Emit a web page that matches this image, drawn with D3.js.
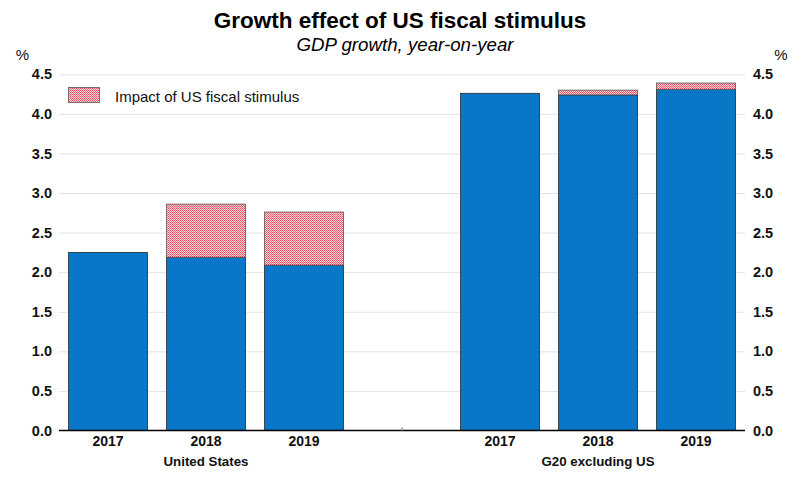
<!DOCTYPE html>
<html>
<head>
<meta charset="utf-8">
<script src="https://cdn.jsdelivr.net/npm/d3@7"></script>
<style>
  body { margin: 0; background: #fff; }
  svg { display: block; font-family: "Liberation Sans", Arial, sans-serif; }
</style>
</head>
<body>
<svg id="chart" width="795" height="481"></svg>
<script>
(function(){

  // data
  var groups = ["United States", "G20 excluding US"];
  var years = ["2017", "2018", "2019"];
  var baseUS = [2.25, 2.19, 2.09];
  var impactUS = [0, 0.67, 0.67];
  var baseG20 = [4.26, 4.24, 4.31];
  var impactG20 = [0, 0.06, 0.08];
  var yTicks = [0, 0.5, 1, 1.5, 2, 2.5, 3, 3.5, 4, 4.5];

  var left = 59, right = 745, top = 74.3, bottom = 430.5;
  var blue = "#0877c7";

  var rows = [];
  years.forEach(function(yr, i){
    rows.push({key: "US-" + yr, year: yr, group: groups[0], base: baseUS[i], impact: impactUS[i]});
  });
  rows.push({key: "gap", year: "", group: null});
  years.forEach(function(yr, i){
    rows.push({key: "G20-" + yr, year: yr, group: groups[1], base: baseG20[i], impact: impactG20[i]});
  });

  var svg = d3.select("#chart");

  // hatch pattern for the stimulus part
  var pat = svg.append("defs").append("pattern")
    .attr("id", "hatch")
    .attr("patternUnits", "userSpaceOnUse")
    .attr("width", 2).attr("height", 2);
  pat.append("rect").attr("width", 2).attr("height", 2).attr("fill", "#fcd3d8");
  pat.append("rect").attr("width", 1).attr("height", 1).attr("fill", "#ec4a5c");
  pat.append("rect").attr("x", 1).attr("y", 1).attr("width", 1).attr("height", 1).attr("fill", "#ef6b7a");

  var x = d3.scaleBand()
    .domain(rows.map(function(d){ return d.key; }))
    .range([left, right])
    .paddingInner(0.194)
    .paddingOuter(0.097);

  var y = d3.scaleLinear().domain([0, 4.5]).range([bottom, top]);

  // gridlines
  svg.append("g")
    .attr("transform", "translate(" + left + ",0)")
    .call(d3.axisLeft(y).tickValues(yTicks.slice(1)).tickSize(-(right - left)).tickFormat(""))
    .call(function(g){
      g.select(".domain").remove();
      g.selectAll("line").attr("stroke", "#e3e3e3").attr("stroke-width", 1);
    });

  // left & right tick labels
  svg.append("g")
    .attr("transform", "translate(" + left + ",0)")
    .call(d3.axisLeft(y).tickValues(yTicks).tickFormat(d3.format(".1f")).tickSize(0).tickPadding(7))
    .call(function(g){
      g.select(".domain").remove();
      g.selectAll("text").attr("font-size", 14.5).attr("font-weight", "bold").attr("fill", "#111")
        .attr("font-family", "Liberation Sans, Arial, sans-serif");
    });

  svg.append("g")
    .attr("transform", "translate(" + right + ",0)")
    .call(d3.axisRight(y).tickValues(yTicks).tickFormat(d3.format(".1f")).tickSize(0).tickPadding(8))
    .call(function(g){
      g.select(".domain").remove();
      g.selectAll("text").attr("font-size", 14.5).attr("font-weight", "bold").attr("fill", "#111")
        .attr("font-family", "Liberation Sans, Arial, sans-serif");
    });

  var bars = rows.filter(function(d){ return d.group; });

  // baseline growth
  svg.append("g").selectAll("rect")
    .data(bars)
    .enter()
    .append("rect")
    .attr("x", function(d){ return x(d.key); })
    .attr("width", x.bandwidth())
    .attr("y", function(d){ return y(d.base); })
    .attr("height", function(d){ return y(0) - y(d.base); })
    .attr("fill", blue)
    .attr("stroke", "#2a2a2a")
    .attr("stroke-width", 0.8);

  // stimulus impact
  svg.append("g").selectAll("rect")
    .data(bars.filter(function(d){ return d.impact > 0; }))
    .enter()
    .append("rect")
    .attr("x", function(d){ return x(d.key); })
    .attr("width", x.bandwidth())
    .attr("y", function(d){ return y(d.base + d.impact); })
    .attr("height", function(d){ return y(d.base) - y(d.base + d.impact); })
    .attr("fill", "url(#hatch)")
    .attr("stroke", "#555")
    .attr("stroke-width", 0.8);

  // x axis with years
  svg.append("g")
    .attr("transform", "translate(0," + bottom + ")")
    .call(d3.axisBottom(x).tickSize(0).tickPadding(6)
      .tickFormat(function(k){ return rows.find(function(r){ return r.key == k; }).year; }))
    .call(function(g){
      g.select(".domain").attr("d", "M" + left + ",0H" + right).attr("stroke", "#000").attr("stroke-width", 1.6);
      g.selectAll("text").attr("font-size", 14).attr("font-weight", "bold").attr("fill", "#111")
        .attr("font-family", "Liberation Sans, Arial, sans-serif");
    });

  // little separator tick in the gap
  svg.append("line")
    .attr("x1", x("gap") + x.bandwidth() / 2).attr("x2", x("gap") + x.bandwidth() / 2)
    .attr("y1", bottom - 3).attr("y2", bottom)
    .attr("stroke", "#999").attr("stroke-width", 1.5);

  // group labels under the middle bar of each group
  groups.forEach(function(g, i){
    var mid = (i == 0 ? "US-" : "G20-") + years[1];
    svg.append("text")
      .attr("x", x(mid) + x.bandwidth() / 2)
      .attr("y", 466)
      .attr("text-anchor", "middle")
      .attr("font-size", 13.3)
      .attr("font-weight", "bold")
      .attr("fill", "#111")
      .text(g);
  });

  // units
  svg.append("text").attr("x", 22.5).attr("y", 60).attr("text-anchor", "middle")
    .attr("font-size", 15).attr("fill", "#111").text("%");
  svg.append("text").attr("x", 781).attr("y", 60).attr("text-anchor", "middle")
    .attr("font-size", 15).attr("fill", "#111").text("%");

  // titles
  svg.append("text").attr("x", 400).attr("y", 28).attr("text-anchor", "middle")
    .attr("font-size", 22.5).attr("font-weight", "bold").attr("fill", "#000")
    .text("Growth effect of US fiscal stimulus");
  svg.append("text").attr("x", 405).attr("y", 51).attr("text-anchor", "middle")
    .attr("font-size", 18.7).attr("font-style", "italic").attr("fill", "#000")
    .text("GDP growth, year-on-year");

  // legend
  svg.append("rect").attr("x", 68.5).attr("y", 87.5).attr("width", 31).attr("height", 15)
    .attr("fill", "url(#hatch)").attr("stroke", "#555").attr("stroke-width", 0.8);
  svg.append("text").attr("x", 115).attr("y", 101.5).attr("font-size", 15).attr("fill", "#111")
    .text("Impact of US fiscal stimulus");

})();
</script>
</body>
</html>
